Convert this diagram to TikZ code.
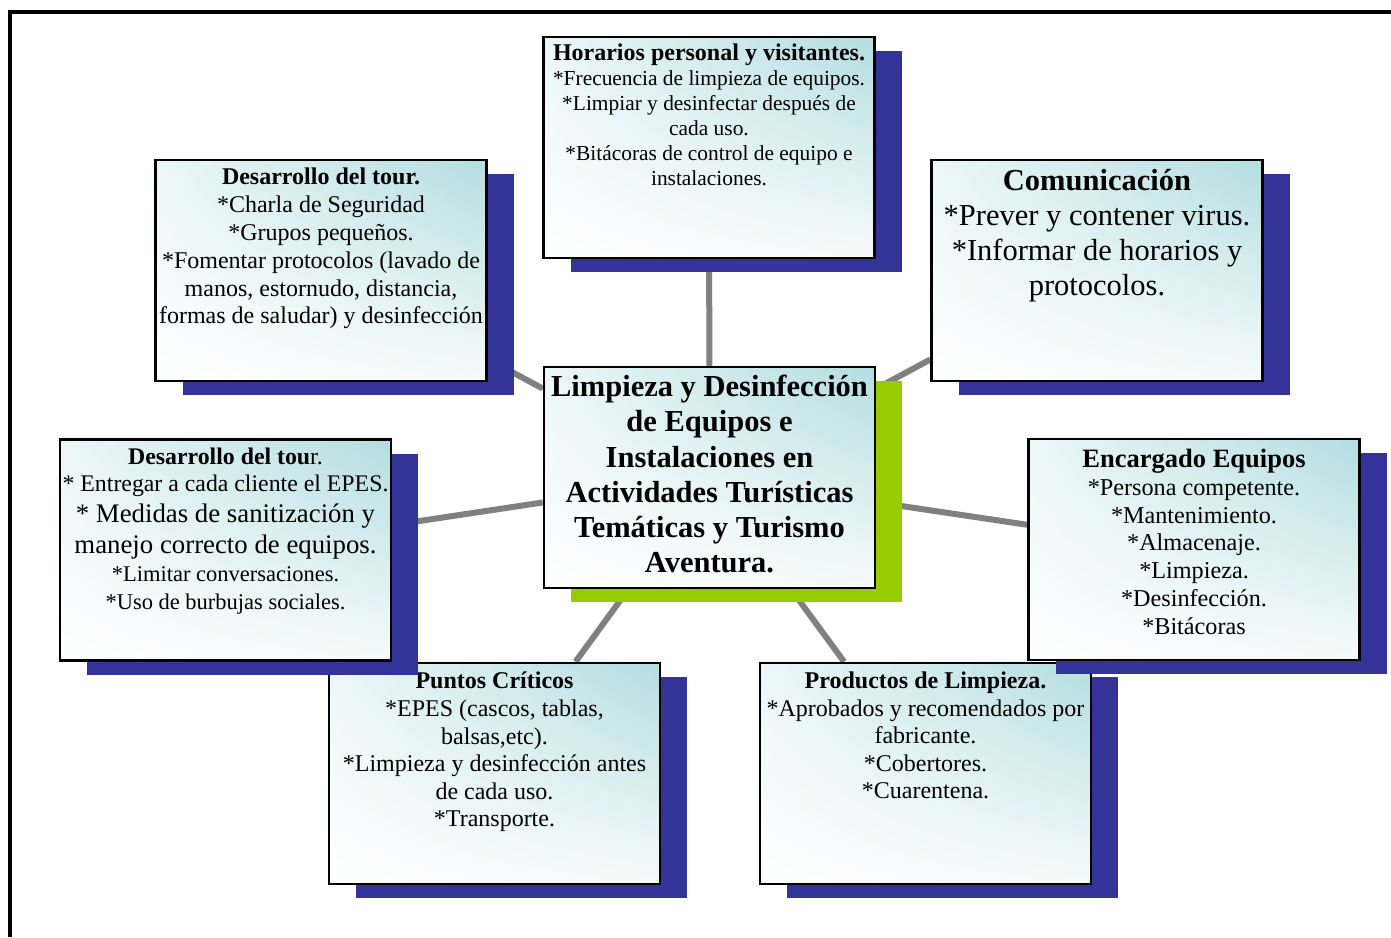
\documentclass[tikz,border=0pt]{standalone}
\usepackage{fontspec}
\setmainfont{Liberation Serif}
\usetikzlibrary{calc,shadings}
\definecolor{shblue}{HTML}{333399}
\definecolor{shgreen}{HTML}{99CC00}
\definecolor{tealone}{HTML}{B3DDE0}
\definecolor{connc}{HTML}{808080}
\pgfdeclarelayer{bg}
\pgfsetlayers{bg,main}
\tikzset{
  box/.style={draw=black, line width=2.5pt, minimum width=331pt, minimum height=221pt, inner sep=0pt,
    upper right=tealone, upper left=tealone!25!white, lower left=white, lower right=tealone!12!white},
  bluesh/.style={fill=shblue, minimum width=331pt, minimum height=221pt, inner sep=0pt},
  greensh/.style={fill=shgreen, minimum width=331pt, minimum height=221pt, inner sep=0pt},
  txt/.style={anchor=north, align=center, inner sep=0pt},
  conline/.style={draw=connc, line width=6pt},
  frameline/.style={draw=black, line width=4pt},
}
\begin{document}
\begin{tikzpicture}[x=1pt,y=-1pt]
\useasboundingbox (0,0) rectangle (1391,937);
\draw[frameline] (10,937) -- (10,11.5) -- (1391,11.5);

% center
\node[greensh] (sc) at (736.5,491.5) {};
\node[box] (c) at (709.5,477.5) {};
\node[txt, font=\fontsize{30.5}{35.2}\selectfont\bfseries] (tc) at (709.5,375) {Limpieza y Desinfección\\ de Equipos e\\ Instalaciones en\\ Actividades Turísticas\\ Temáticas y Turismo\\ Aventura.};

% top
\node[bluesh] (s1) at (736,161.5) {};
\node[box] (b1) at (709,147.5) {};
\node[txt, font=\fontsize{21.4}{25}\selectfont] (t1) at (709,44) {{\fontsize{24}{25}\selectfont\bfseries Horarios personal y visitantes.}\\ *Frecuencia de limpieza de equipos.\\ *Limpiar y desinfectar después de\\ cada uso.\\ *Bitácoras de control de equipo e\\ instalaciones.};

% upper left
\node[bluesh] (s2) at (348,284.5) {};
\node[box] (b2) at (321,270.5) {};
\node[txt, font=\fontsize{24}{27.8}\selectfont] (t2) at (321,168) {\textbf{Desarrollo del tour.}\\ *Charla de Seguridad\\ *Grupos pequeños.\\ *Fomentar protocolos (lavado de\\ manos, estornudo, distancia,\\ formas de saludar) y desinfección};

% upper right
\node[bluesh] (s3) at (1124,284.5) {};
\node[box] (b3) at (1097,270.5) {};
\node[txt, font=\fontsize{30.5}{35}\selectfont] (t3) at (1097,169) {\textbf{Comunicación}\\ *Prever y contener virus.\\ *Informar de horarios y\\ protocolos.};

% bottom left
\node[bluesh] (s7) at (521.5,787.5) {};
\node[box] (b7) at (494.5,773.5) {};
\node[txt, font=\fontsize{24}{27.6}\selectfont] (t7) at (494.5,672) {\textbf{Puntos Críticos}\\ *EPES (cascos, tablas,\\ balsas,etc).\\ *Limpieza y desinfección antes\\ de cada uso.\\ *Transporte.};

% bottom right
\node[bluesh] (s8) at (952.5,787.5) {};
\node[box] (b8) at (925.5,773.5) {};
\node[txt, font=\fontsize{24}{27.5}\selectfont] (t8) at (925.5,672) {\textbf{Productos de Limpieza.}\\ *Aprobados y recomendados por\\ fabricante.\\ *Cobertores.\\ *Cuarentena.};

% left middle
\node[bluesh] (s5) at (252.5,564) {};
\node[box] (b5) at (225.5,550) {};
\node[txt, font=\fontsize{23.8}{27}\selectfont] (t5a) at (225.5,448) {\textbf{Desarrollo del tou}r.\\ * Entregar a cada cliente el EPES.};
\node[txt, font=\fontsize{26.8}{31}\selectfont] (t5b) at (225.5,504) {* Medidas de sanitización y\\ manejo correcto de equipos.};
\node[txt, font=\fontsize{22.5}{28}\selectfont] (t5c) at (225.5,566) {*Limitar conversaciones.\\ *Uso de burbujas sociales.};

% right middle
\node[bluesh] (s6) at (1221,563.5) {};
\node[box] (b6) at (1194,549.5) {};
\node[txt, font=\fontsize{24.2}{27.8}\selectfont] (t6) at (1194,449) {{\fontsize{26.5}{27.8}\selectfont\bfseries Encargado Equipos}\\ *Persona competente.\\ *Mantenimiento.\\ *Almacenaje.\\ *Limpieza.\\ *Desinfección.\\ *Bitácoras};

\begin{pgfonlayer}{bg}
\draw[conline] (c) -- (b1);
\draw[conline] (c) -- (b2);
\draw[conline] (c) -- (b3);
\draw[conline] (c) -- (b5);
\draw[conline] (c) -- (b6);
\draw[conline] (c) -- (b7);
\draw[conline] (c) -- (b8);
\end{pgfonlayer}
\end{tikzpicture}
\end{document}
